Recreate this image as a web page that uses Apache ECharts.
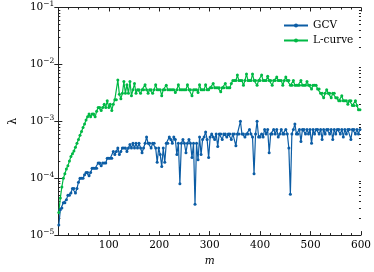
<!DOCTYPE html>
<html>
<head>
<meta charset="utf-8">
<script src="https://cdn.jsdelivr.net/npm/echarts@6/dist/echarts.min.js"></script>
<style>html,body{margin:0;padding:0;background:#fff}#c{width:374px;height:272px}</style>
</head>
<body>
<div id="c"></div>
<script>
// sample positions: m = 1, 4, 7, ... (every 3rd m)
const mStart = 1, mStep = 3;
const yTicks = [1e-5, 1e-4, 1e-3, 1e-2, 1e-1];
const seriesNames = ['GCV', 'L-curve'];

const gcv = [
1.5e-5,2.8e-5,3e-5,3.7e-5,3.7e-5,4.2e-5,5e-5,5e-5,5.5e-5,6.6e-5,
6.6e-5,5.5e-5,6.6e-5,8.5e-5,1e-4,1e-4,1e-4,1.15e-4,1.26e-4,1.26e-4,
1.1e-4,1.26e-4,1.5e-4,1.5e-4,1.5e-4,1.5e-4,1.85e-4,1.85e-4,1.65e-4,1.85e-4,
1.85e-4,1.85e-4,2.24e-4,2.24e-4,2.24e-4,2.24e-4,2.95e-4,2.6e-4,2.95e-4,3.4e-4,
2.6e-4,2.95e-4,3.4e-4,3.4e-4,3.4e-4,2.95e-4,3.4e-4,3.9e-4,3.4e-4,4.1e-4,
3.4e-4,4.1e-4,3.4e-4,4.1e-4,3.4e-4,2.8e-4,3.4e-4,4.1e-4,5.3e-4,4.1e-4,
4.1e-4,3.4e-4,4.1e-4,4.1e-4,3.4e-4,1.9e-4,3.4e-4,2.6e-4,1.6e-4,3.4e-4,
1.9e-4,4.1e-4,4.1e-4,5.3e-4,4.8e-4,4.1e-4,5.3e-4,4.8e-4,2.6e-4,4.1e-4,
8e-5,4.1e-4,4.8e-4,4.1e-4,2.8e-4,4.1e-4,4.8e-4,4.1e-4,2.3e-4,4.1e-4,
3.5e-5,4.1e-4,2.1e-4,5.3e-4,2.6e-4,4.8e-4,5.3e-4,6.5e-4,4.8e-4,2.3e-4,
5.3e-4,6e-4,5.3e-4,4.8e-4,6e-4,3.6e-4,6e-4,6e-4,4.8e-4,6e-4,
6e-4,5.3e-4,6e-4,6e-4,4.8e-4,6e-4,6e-4,3.7e-4,6e-4,6e-4,
1e-3,6e-4,6e-4,5.3e-4,6e-4,6e-4,7.2e-4,6e-4,5.3e-4,1.2e-4,
6e-4,1e-3,5.3e-4,5.3e-4,6e-4,5.3e-4,7.2e-4,6e-4,7.2e-4,2.8e-4,
6e-4,6e-4,7.2e-4,6e-4,7.2e-4,5.3e-4,6e-4,7.2e-4,6e-4,6e-4,
7.2e-4,6e-4,3.4e-4,5.2e-5,6e-4,7.2e-4,9e-4,6e-4,6e-4,7.2e-4,
4.4e-4,7.2e-4,7.2e-4,6e-4,7.2e-4,6e-4,7.2e-4,4.1e-4,7.2e-4,6e-4,
7.2e-4,7.2e-4,6e-4,7.2e-4,4.8e-4,7.2e-4,6e-4,7.2e-4,7.2e-4,6e-4,
7.2e-4,4.8e-4,7.2e-4,6e-4,7.2e-4,7.2e-4,6e-4,7.2e-4,5.3e-4,7.2e-4,
6e-4,7.2e-4,7.2e-4,4.8e-4,7.2e-4,7.2e-4,6e-4,7.2e-4,6e-4,7.2e-4
];

const lcurve = [
2.5e-5,4.5e-5,7e-5,1e-4,1.2e-4,1.45e-4,1.65e-4,2e-4,2.4e-4,2.7e-4,
3e-4,3.5e-4,4.1e-4,4.8e-4,5.7e-4,6.6e-4,7.8e-4,9e-4,1.05e-3,1.2e-3,
1.35e-3,1.2e-3,1.35e-3,1.35e-3,1.2e-3,1.5e-3,1.75e-3,1.75e-3,1.55e-3,1.75e-3,
2e-3,1.75e-3,2.3e-3,1.75e-3,2e-3,1.55e-3,2e-3,2.4e-3,2.4e-3,5.3e-3,
3e-3,2.5e-3,3.1e-3,5e-3,3.1e-3,4.4e-3,3.1e-3,5e-3,2.8e-3,3.6e-3,
4.6e-3,3.1e-3,3.6e-3,3.6e-3,3.1e-3,3.6e-3,3.6e-3,4.4e-3,3.6e-3,3.1e-3,
3.6e-3,3.6e-3,3.1e-3,3.6e-3,4.4e-3,3.6e-3,3.6e-3,3.6e-3,2.8e-3,3.6e-3,
3.6e-3,4.3e-3,3.6e-3,3.6e-3,3.6e-3,3.6e-3,3.6e-3,3.2e-3,3.6e-3,4.4e-3,
3.6e-3,3.6e-3,3.6e-3,3.6e-3,3.6e-3,4.4e-3,3.6e-3,3.6e-3,2.8e-3,3.6e-3,
3.6e-3,3.6e-3,3.2e-3,4.4e-3,3.6e-3,3.6e-3,3.6e-3,4.4e-3,3.6e-3,3.6e-3,
3.9e-3,3.9e-3,4.6e-3,3.9e-3,3.9e-3,3.9e-3,3.9e-3,3.3e-3,3.9e-3,3.9e-3,
4.6e-3,3.9e-3,3.9e-3,3.9e-3,4.6e-3,
5.2e-3,5.2e-3,5.2e-3,6.5e-3,5.2e-3,5.2e-3,5.2e-3,4.3e-3,5.2e-3,6.8e-3,
5.2e-3,5.2e-3,5.2e-3,6.8e-3,5.2e-3,5.2e-3,4.3e-3,5.2e-3,5.2e-3,6.5e-3,
5.2e-3,5.2e-3,5.2e-3,6.2e-3,5.2e-3,5.2e-3,4.3e-3,5.2e-3,5.2e-3,6e-3,
5.2e-3,5.2e-3,5.2e-3,4.3e-3,5.2e-3,6e-3,5.2e-3,5.2e-3,
4.3e-3,4.3e-3,5.2e-3,4.3e-3,4.3e-3,4.3e-3,4.3e-3,5.2e-3,4.3e-3,4.3e-3,
4.3e-3,5e-3,4.3e-3,4.3e-3,3.7e-3,4.3e-3,4.3e-3,4.3e-3,3.7e-3,3.7e-3,
3.1e-3,3.1e-3,2.6e-3,3.1e-3,3.6e-3,3.1e-3,3.1e-3,2.6e-3,3.1e-3,3.1e-3,
2.6e-3,2.6e-3,2.3e-3,2.3e-3,2.8e-3,2.3e-3,2.3e-3,2.3e-3,2e-3,2.3e-3,
2.3e-3,1.9e-3,1.9e-3,2.3e-3,1.9e-3,1.6e-3,1.6e-3
];

const colors = ['#0C5DA5', '#00B945'];
const FONT = 'DejaVu Serif';
const toPairs = arr => arr.map((v, i) => [mStart + mStep * i, v]);

// minor log ticks (2..9 x 10^k)
const minorY = [];
for (let k = -5; k <= -2; k++) for (let d = 2; d <= 9; d++) minorY.push(d * Math.pow(10, k));

const axisCol = '#222';
const supFmt = v => {
  const e = Math.round(Math.log10(v));
  return '{b|10}{s|\u2212' + (-e) + '}';
};
const logBase = {
  type: 'log', logBase: 10, min: 1e-5, max: 1e-1,
  splitLine: { show: false },
  axisLine: { show: true, lineStyle: { color: axisCol, width: 1 } }
};

const chart = echarts.init(document.getElementById('c'), null, { renderer: 'canvas' });
chart.setOption({
  animation: false,
  color: colors,
  grid: { left: 45, right: 13, top: 7, bottom: 31, containLabel: false },
  legend: {
    orient: 'vertical', left: 278, top: 15, itemWidth: 24, itemHeight: 5, itemGap: 4,
    textStyle: { fontFamily: FONT, fontSize: 10.5, color: '#000' },
    data: seriesNames
  },
  xAxis: [
    {
      type: 'value', min: 0, max: 600, interval: 100, position: 'bottom',
      name: 'm', nameLocation: 'middle', nameGap: 18,
      nameTextStyle: { fontFamily: FONT, fontStyle: 'italic', fontSize: 10.5, color: '#000' },
      axisLine: { show: true, lineStyle: { color: axisCol, width: 1 } },
      axisTick: { show: true, inside: true, length: 4, lineStyle: { color: axisCol } },
      minorTick: { show: true, splitNumber: 5, length: 2, lineStyle: { color: axisCol } },
      splitLine: { show: false },
      axisLabel: { showMinLabel: false, margin: 5, fontFamily: FONT, fontSize: 10.5, color: '#000' }
    },
    {
      type: 'value', min: 0, max: 600, interval: 100, position: 'top',
      axisLine: { show: true, lineStyle: { color: axisCol, width: 1 } },
      axisTick: { show: true, inside: true, length: 4, lineStyle: { color: axisCol } },
      minorTick: { show: true, splitNumber: 5, length: 2, lineStyle: { color: axisCol } },
      splitLine: { show: false },
      axisLabel: { show: false }
    }
  ],
  yAxis: [
    Object.assign({}, logBase, {
      position: 'left',
      name: '\u03bb', nameLocation: 'middle', nameGap: 36, nameRotate: 90,
      nameTextStyle: { fontFamily: FONT, fontSize: 11, color: '#000' },
      axisTick: { show: true, inside: true, length: 4, lineStyle: { color: axisCol }, customValues: yTicks },
      axisLabel: {
        margin: 4, formatter: supFmt, customValues: yTicks,
        rich: {
          b: { fontFamily: FONT, fontSize: 10.5, color: '#000' },
          s: { fontFamily: FONT, fontSize: 7.5, color: '#000', padding: [0, 0, 7, 0] }
        }
      }
    }),
    Object.assign({}, logBase, {
      position: 'right',
      axisTick: { show: true, inside: true, length: 4, lineStyle: { color: axisCol }, customValues: yTicks },
      axisLabel: { show: false }
    }),
    Object.assign({}, logBase, {
      position: 'left',
      axisLine: { show: false },
      axisTick: { show: true, inside: true, length: 2, lineStyle: { color: axisCol }, customValues: minorY },
      axisLabel: { show: false }
    }),
    Object.assign({}, logBase, {
      position: 'right',
      axisLine: { show: false },
      axisTick: { show: true, inside: true, length: 2, lineStyle: { color: axisCol }, customValues: minorY },
      axisLabel: { show: false }
    })
  ],
  series: [
    {
      name: seriesNames[0], type: 'line', data: toPairs(gcv),
      symbol: 'circle', symbolSize: 3, showAllSymbol: true,
      lineStyle: { width: 1.2 }, itemStyle: { color: colors[0] }
    },
    {
      name: seriesNames[1], type: 'line', data: toPairs(lcurve),
      symbol: 'circle', symbolSize: 3, showAllSymbol: true,
      lineStyle: { width: 1.2 }, itemStyle: { color: colors[1] }
    }
  ]
});
</script>
</body>
</html>
